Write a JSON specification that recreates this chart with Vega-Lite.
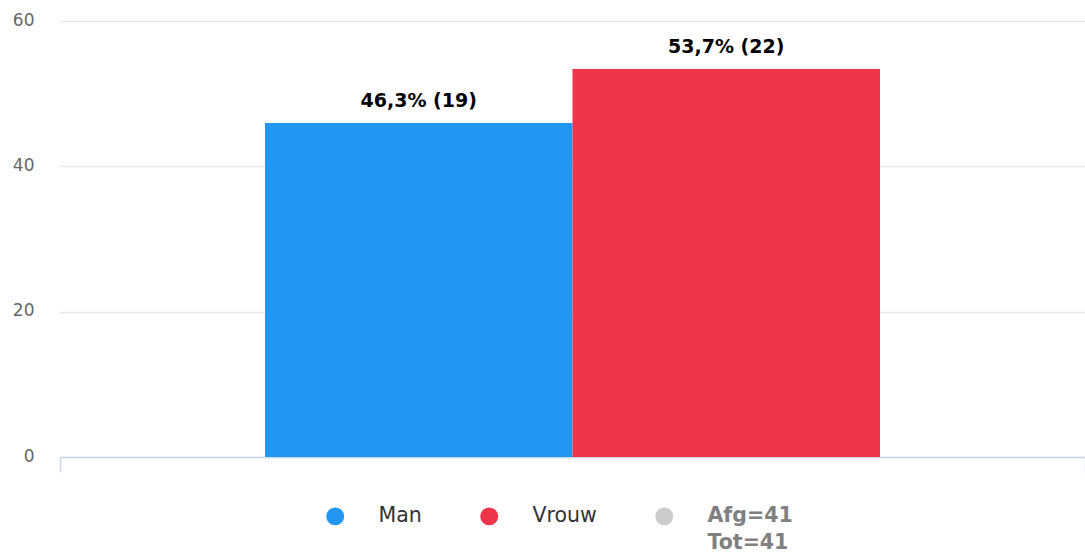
{
  "$schema": "https://vega.github.io/schema/vega-lite/v6.json",
  "width": 1025,
  "height": 436,
  "autosize": {"type": "none"},
  "padding": {"left": 60, "top": 21, "right": 0, "bottom": 95},
  "background": "white",
  "config": {
    "view": {"stroke": null},
    "font": "DejaVu Sans"
  },
  "data": {
    "values": [
      {"grp": "all", "gender": "Man", "pct": 45.95, "label": "46,3% (19)"},
      {"grp": "all", "gender": "Vrouw", "pct": 53.4, "label": "53,7% (22)"}
    ]
  },
  "encoding": {
    "x": {
      "field": "grp",
      "type": "nominal",
      "scale": {"paddingInner": 0, "paddingOuter": 0},
      "axis": {
        "title": null,
        "labels": false,
        "domainColor": "#ccd6eb",
        "domainWidth": 1.5,
        "tickColor": "#ccd6eb",
        "tickWidth": 1.5,
        "tickSize": 15,
        "tickBand": "extent",
        "grid": false
      }
    },
    "xOffset": {
      "field": "gender",
      "type": "nominal",
      "scale": {"domain": ["Man", "Vrouw"], "paddingInner": 0, "paddingOuter": 0.6667}
    },
    "y": {
      "field": "pct",
      "type": "quantitative",
      "scale": {"domain": [0, 60], "nice": false},
      "axis": {
        "title": null,
        "values": [0, 20, 40, 60],
        "domain": false,
        "ticks": false,
        "tickSize": 0,
        "labelPadding": 26,
        "labelFontSize": 17,
        "labelColor": "#666666",
        "labelOffset": -1,
        "gridColor": "#e6e6e6",
        "gridWidth": 1.5
      }
    }
  },
  "layer": [
    {
      "mark": {"type": "bar"},
      "encoding": {
        "color": {
          "field": "gender",
          "type": "nominal",
          "scale": {
            "domain": ["Man", "Vrouw", "Afg"],
            "range": ["#2196f3", "#f03449", "#cccccc"]
          },
          "legend": {
            "title": null,
            "orient": "none",
            "direction": "horizontal",
            "legendX": 265,
            "legendY": 485,
            "padding": 0,
            "symbolType": "circle",
            "symbolSize": 320,
            "symbolStrokeWidth": 0,
            "symbolOpacity": 1,
            "labelFontSize": 20.5,
            "labelColor": "#333333",
            "labelOffset": 33,
            "columnPadding": 57,
            "labelLimit": 300,
            "encode": {
              "labels": {
                "update": {
                  "text": {"signal": "datum.label === 'Afg' ? ['Afg=41', 'Tot=41'] : [datum.label, ' ']"},
                  "fontWeight": {"signal": "datum.label === 'Afg' ? 'bold' : 'normal'"},
                  "fill": {"signal": "datum.label === 'Afg' ? '#808080' : '#333333'"},
                  "lineHeight": {"value": 27}
                }
              }
            }
          }
        }
      }
    },
    {
      "mark": {
        "type": "text",
        "baseline": "middle",
        "align": "center",
        "dy": -22,
        "fontSize": 19,
        "fontWeight": "bold",
        "color": "#000000"
      },
      "encoding": {
        "text": {"field": "label"}
      }
    }
  ]
}
